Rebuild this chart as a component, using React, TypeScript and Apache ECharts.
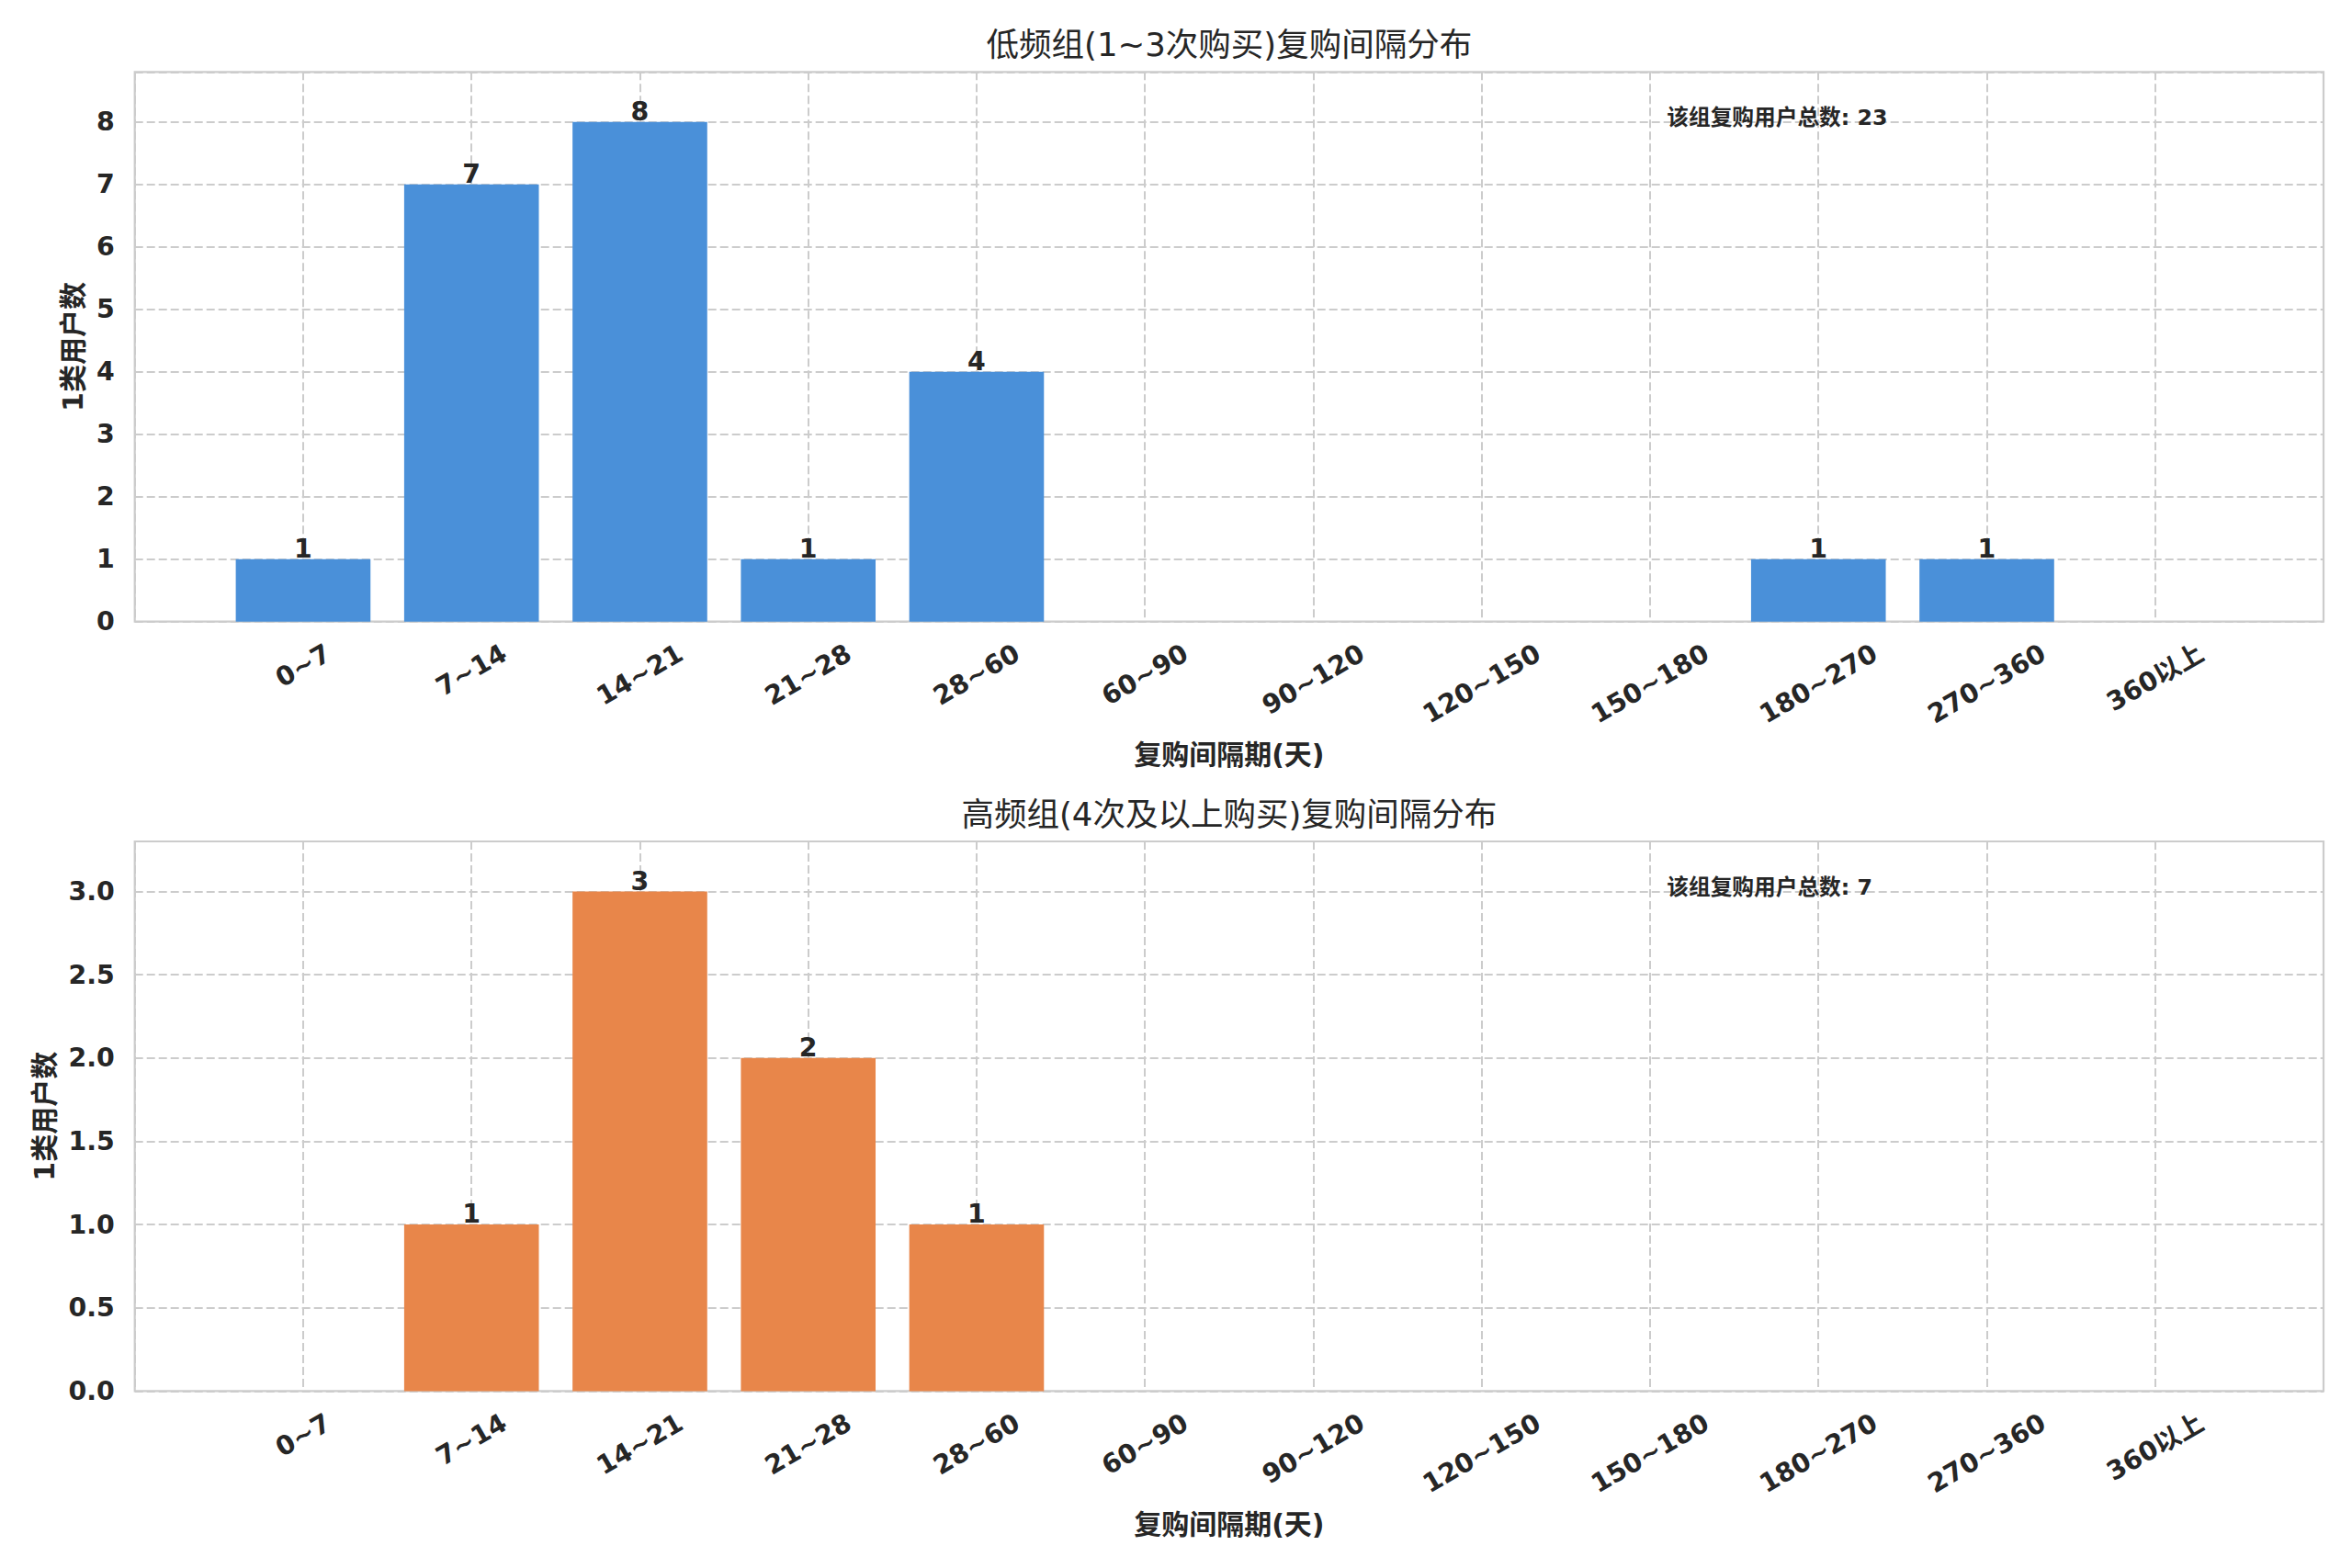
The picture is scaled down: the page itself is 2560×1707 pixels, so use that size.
import React, { useEffect, useRef } from "react";
import * as echarts from "echarts";

const categories = ["0~7", "7~14", "14~21", "21~28", "28~60", "60~90", "90~120", "120~150", "150~180", "180~270", "270~360", "360以上"];
const lowValues = [1, 7, 8, 1, 4, 0, 0, 0, 0, 1, 1, 0];
const highValues = [0, 1, 3, 2, 1, 0, 0, 0, 0, 0, 0, 0];
const titles = ["低频组(1~3次购买)复购间隔分布", "高频组(4次及以上购买)复购间隔分布"];
const xName = "复购间隔期(天)";
const yName = "1类用户数";
const totalLabel = "该组复购用户总数";
const totals = [23, 7];
const yMax = [8.8, 3.3];
const yInterval = [1, 0.5];
const colors = ["#4A90D9", "#E8864A"];

const FONT = '"DejaVu Sans", "Noto Sans CJK SC", sans-serif';
const TXT = "#262626";
const GRIDC = "#cccccc";

const W = 2560;
const H = 1707;
const GL = 146.7;
const GW = 2382.3;
const GT = [78.3, 916];
const GH = 598.4;

function textWidth(s: string, fs: number) {
  let w = 0;
  for (const ch of s) {
    if (/[0-9]/.test(ch)) w += 0.696 * fs;
    else if (ch === "~") w += 0.838 * fs;
    else w += 1.0 * fs;
  }
  return w;
}

export default function App() {
  const ref = useRef<HTMLDivElement>(null);
  useEffect(() => {
    if (!ref.current) return;
    const chart = echarts.init(ref.current, undefined, { renderer: "svg" });
    const tickFs = 28.4;
    const padCats = ["", ...categories, ""];
    const widths = categories.map((c) => textWidth(c, tickFs));
    const wMin = Math.min(...widths);
    const rich: Record<string, any> = {};
    categories.forEach((c, i) => {
      const P = 0.433 * (widths[i] - wMin);
      const R = 0.577 * P;
      rich["l" + (i + 1)] = {
        padding: [P, R, 0, 0],
        fontSize: tickFs,
        fontWeight: "bold",
        fontFamily: FONT,
        color: TXT,
      };
    });
    const series = [lowValues, highValues];
    const option: any = {
      animation: false,
      backgroundColor: "#ffffff",
      title: titles.map((t, i) => ({
        text: t,
        left: GL + GW / 2,
        top: i === 0 ? 31 : 869,
        textAlign: "center",
        padding: 0,
        textStyle: { fontSize: 35.5, fontWeight: "normal", fontFamily: FONT, color: TXT },
      })),
      grid: GT.map((t) => ({
        left: GL,
        top: t,
        width: GW,
        height: GH,
        show: true,
        borderColor: GRIDC,
        borderWidth: 2.2,
        backgroundColor: "transparent",
      })),
      xAxis: [0, 1].map((i) => ({
        type: "category",
        gridIndex: i,
        data: padCats,
        boundaryGap: false,
        axisLine: { show: false },
        axisTick: { show: false },
        splitLine: { show: true, interval: 0, lineStyle: { color: GRIDC, width: 2, type: [9, 4] } },
        axisLabel: {
          interval: 0,
          rotate: 30,
          align: "center",
          verticalAlign: "middle",
          margin: 48,
          fontSize: tickFs,
          fontWeight: "bold",
          fontFamily: FONT,
          color: TXT,
          formatter: (v: string, idx: number) => (v ? `{l${idx}|${v}}` : ""),
          rich,
        },
        name: xName,
        nameLocation: "middle",
        nameGap: 130,
        nameTextStyle: { fontSize: 30, fontWeight: "bold", fontFamily: FONT, color: TXT },
      })),
      yAxis: [0, 1].map((i) => ({
        type: "value",
        gridIndex: i,
        min: 0,
        max: yMax[i],
        interval: yInterval[i],
        axisLine: { show: false },
        axisTick: { show: false },
        splitLine: { show: true, lineStyle: { color: GRIDC, width: 2, type: [9, 4] } },
        axisLabel: {
          margin: 22,
          showMaxLabel: false,
          fontSize: tickFs,
          fontWeight: "bold",
          fontFamily: FONT,
          color: TXT,
          formatter: (v: number) => (i === 0 ? String(Math.round(v)) : v.toFixed(1)),
        },
        name: yName,
        nameLocation: "middle",
        nameRotate: 90,
        nameGap: i === 0 ? 51 : 83,
        nameTextStyle: { fontSize: 30, fontWeight: "bold", fontFamily: FONT, color: TXT },
      })),
      series: series.map((vals, i) => ({
        type: "bar",
        xAxisIndex: i,
        yAxisIndex: i,
        data: ["-", ...vals, "-"],
        barWidth: "80%",
        itemStyle: { color: colors[i] },
        label: {
          show: true,
          position: "top",
          distance: -3,
          fontSize: tickFs,
          fontWeight: "bold",
          fontFamily: FONT,
          color: TXT,
          formatter: (p: any) => (p.value ? String(p.value) : ""),
        },
      })),
      graphic: totals.map((t, i) => ({
        type: "text",
        x: GL + 0.7 * GW,
        y: GT[i] + 50,
        z: 10,
        style: {
          text: `${totalLabel}: ${t}`,
          fill: TXT,
          fontSize: 23.7,
          fontWeight: "bold",
          fontFamily: FONT,
          align: "left",
          verticalAlign: "middle",
        },
      })),
    };
    chart.setOption(option);
    return () => chart.dispose();
  }, []);
  return (
    <div
      ref={ref}
      style={{ position: "fixed", left: 0, top: 0, width: W, height: H, background: "#fff" }}
    />
  );
}
